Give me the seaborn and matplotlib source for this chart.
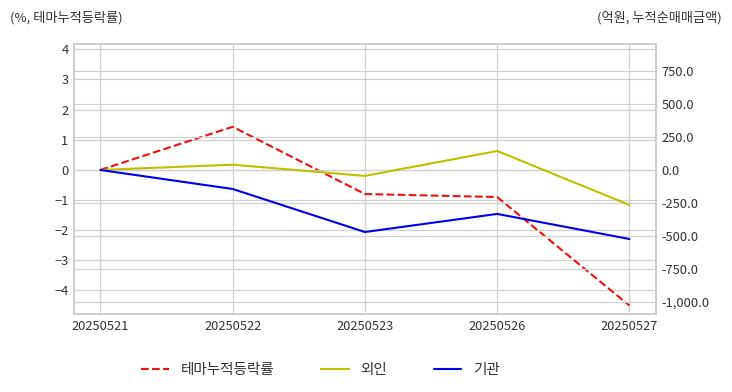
import matplotlib
matplotlib.use("Agg")
import matplotlib.pyplot as plt
import matplotlib.ticker as mticker
import seaborn as sns
import pandas as pd

# data
dates = ["20250521", "20250522", "20250523", "20250526", "20250527"]
theme_rate = [0.0, 1.43, -0.80, -0.90, -4.50]
foreign = [0.0, 40.0, -45.0, 144.0, -265.0]
institution = [0.0, -144.0, -470.0, -333.0, -523.0]

df = pd.DataFrame({"date": dates, "theme": theme_rate,
                   "foreign": foreign, "inst": institution})
df["x"] = range(len(df))

sns.set_style("whitegrid", {"grid.color": "#d0d0d0", "axes.edgecolor": "#cccccc"})
plt.rcParams["font.family"] = ["Noto Sans CJK KR", "DejaVu Sans"]

fig = plt.figure(figsize=(7.32, 3.92), dpi=100)
ax = fig.add_axes([0.101, 0.199, 0.795, 0.689])
ax2 = ax.twinx()

sns.lineplot(data=df, x="x", y="theme", ax=ax, color="#ee1111",
             linestyle="--", linewidth=1.5, label="테마누적등락률", legend=False)
sns.lineplot(data=df, x="x", y="foreign", ax=ax2, color="#bfbf00",
             linewidth=1.5, label="외인", legend=False)
sns.lineplot(data=df, x="x", y="inst", ax=ax2, color="#0000ee",
             linewidth=1.5, label="기관", legend=False)

ax.set_xlim(-0.2, 4.2)
ax.set_xticks(df["x"])
ax.set_xticklabels(dates)
ax.set_ylim(-4.78, 4.18)
ax.set_yticks(range(-4, 5))
ax2.set_ylim(-1091, 955)
ax2.set_yticks([-1000, -750, -500, -250, 0, 250, 500, 750])
ax2.yaxis.set_major_formatter(mticker.FuncFormatter(lambda v, p: f"{v:,.1f}"))

for a in (ax, ax2):
    a.set_xlabel("")
    a.set_ylabel("")
    a.tick_params(length=0, labelsize=9.3, labelcolor="#333333", pad=4)
    a.grid(True, color="#d0d0d0", linewidth=0.9)
    for s in a.spines.values():
        s.set_color("#cccccc")
        s.set_linewidth(1.2)
ax2.grid(axis="x", visible=False)

fig.text(0.013, 0.955, "(%, 테마누적등락률)", fontsize=9.5, color="#333333", va="center")
fig.text(0.986, 0.955, "(억원, 누적순매매금액)", fontsize=9.5, color="#333333",
         va="center", ha="right")

h1, l1 = ax.get_legend_handles_labels()
h2, l2 = ax2.get_legend_handles_labels()
fig.legend(h1 + h2, l1 + l2, loc="center", bbox_to_anchor=(0.438, 0.056),
           ncol=3, frameon=False, fontsize=10.5, handlelength=1.9,
           handletextpad=0.8, columnspacing=3.2, labelcolor="#333333")

plt.savefig("out.png", dpi=100)
